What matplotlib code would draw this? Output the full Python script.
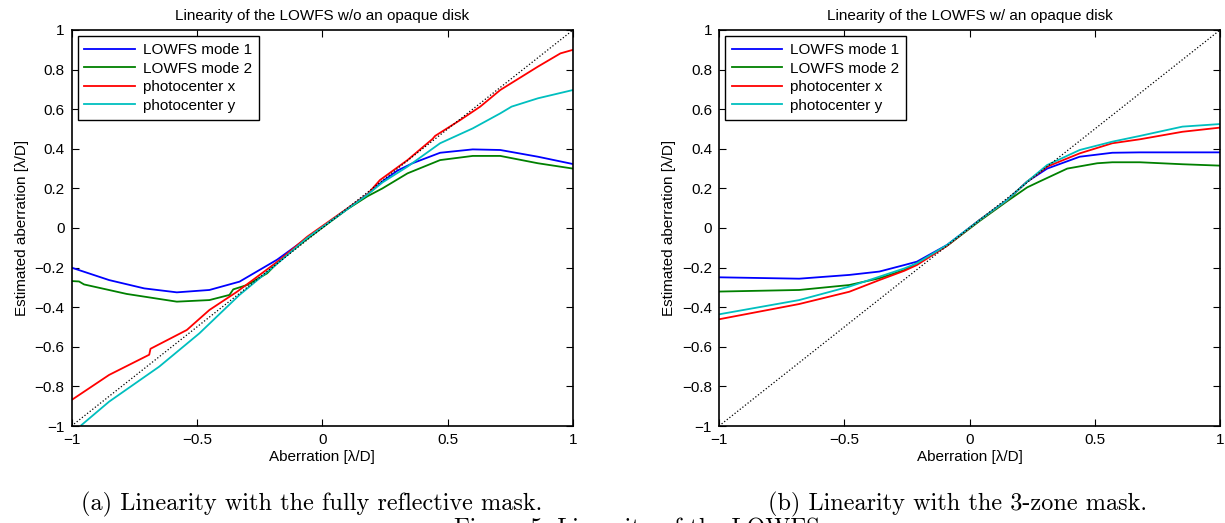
import matplotlib
matplotlib.use('Agg')
import matplotlib.pyplot as plt

# data: (a) w/o an opaque disk
blue_a_x = [-1.0, -0.85, -0.71, -0.58, -0.45, -0.33, -0.18, -0.06, 0.18, 0.24, 0.30, 0.36, 0.47, 0.60, 0.71, 0.86, 1.0]
blue_a_y = [-0.20, -0.263, -0.305, -0.325, -0.313, -0.271, -0.16, -0.05, 0.17, 0.235, 0.29, 0.327, 0.38, 0.397, 0.394, 0.36, 0.323]
green_a_x = [-1.0, -0.97, -0.95, -0.78, -0.58, -0.45, -0.37, -0.355, -0.30, -0.22, -0.17, -0.06, 0.10, 0.18, 0.24, 0.34, 0.47, 0.60, 0.71, 0.86, 1.0]
green_a_y = [-0.268, -0.27, -0.285, -0.333, -0.372, -0.364, -0.338, -0.31, -0.288, -0.229, -0.165, -0.055, 0.095, 0.16, 0.20, 0.276, 0.343, 0.364, 0.364, 0.327, 0.30]
red_a_x = [-1.0, -0.85, -0.69, -0.685, -0.54, -0.45, -0.34, -0.17, -0.06, 0.18, 0.23, 0.34, 0.44, 0.45, 0.55, 0.63, 0.71, 0.86, 0.95, 1.0]
red_a_y = [-0.869, -0.742, -0.64, -0.61, -0.515, -0.414, -0.322, -0.162, -0.044, 0.17, 0.242, 0.343, 0.45, 0.465, 0.545, 0.613, 0.697, 0.815, 0.882, 0.90]
cyan_a_x = [-0.96, -0.85, -0.65, -0.49, -0.33, -0.17, -0.06, 0.18, 0.24, 0.34, 0.47, 0.60, 0.71, 0.755, 0.86, 1.0]
cyan_a_y = [-0.995, -0.877, -0.70, -0.532, -0.338, -0.17, -0.05, 0.168, 0.23, 0.31, 0.428, 0.503, 0.579, 0.613, 0.655, 0.697]

# (b) w/ an opaque disk
blue_b_x = [-1.0, -0.68, -0.48, -0.36, -0.26, -0.21, -0.09, 0.04, 0.15, 0.23, 0.31, 0.44, 0.57, 0.68, 1.0]
blue_b_y = [-0.249, -0.256, -0.237, -0.22, -0.187, -0.170, -0.086, 0.040, 0.141, 0.234, 0.30, 0.36, 0.38, 0.382, 0.382]
green_b_x = [-1.0, -0.68, -0.48, -0.36, -0.26, -0.21, -0.09, 0.04, 0.15, 0.23, 0.28, 0.39, 0.51, 0.57, 0.68, 0.85, 1.0]
green_b_y = [-0.321, -0.313, -0.288, -0.254, -0.212, -0.178, -0.09, 0.035, 0.135, 0.205, 0.235, 0.30, 0.327, 0.332, 0.332, 0.322, 0.315]
red_b_x = [-1.0, -0.68, -0.48, -0.36, -0.26, -0.21, -0.09, 0.04, 0.15, 0.23, 0.31, 0.44, 0.57, 0.68, 0.85, 1.0]
red_b_y = [-0.461, -0.384, -0.322, -0.263, -0.216, -0.187, -0.09, 0.04, 0.14, 0.234, 0.31, 0.377, 0.428, 0.448, 0.486, 0.507]
cyan_b_x = [-1.0, -0.68, -0.48, -0.36, -0.26, -0.21, -0.09, 0.04, 0.15, 0.23, 0.31, 0.44, 0.57, 0.68, 0.85, 1.0]
cyan_b_y = [-0.436, -0.364, -0.296, -0.246, -0.204, -0.178, -0.086, 0.04, 0.141, 0.234, 0.318, 0.394, 0.436, 0.465, 0.512, 0.525]

diag = [-1, 1]
labels = ['LOWFS mode 1', 'LOWFS mode 2', 'photocenter x', 'photocenter y']
colors = ['#0000ff', '#008000', '#ff0000', '#00bfbf']
xticks = [-1, -0.5, 0, 0.5, 1]
xticklabels = ['\u22121', '\u22120.5', '0', '0.5', '1']
yticks = [-1, -0.8, -0.6, -0.4, -0.2, 0, 0.2, 0.4, 0.6, 0.8, 1]
yticklabels = ['\u22121', '\u22120.8', '\u22120.6', '\u22120.4', '\u22120.2', '0', '0.2', '0.4', '0.6', '0.8', '1']
titles = ['Linearity of the LOWFS w/o an opaque disk', 'Linearity of the LOWFS w/ an opaque disk']
captions = ['(a) Linearity with the fully reflective mask.', '(b) Linearity with the 3-zone mask.']

plt.rcParams['font.family'] = ['Liberation Sans', 'DejaVu Sans']

W, H = 1225, 523
fig = plt.figure(figsize=(W / 100, H / 100), dpi=100)
ax_a = fig.add_axes([71.5 / W, 1 - 426 / H, 501.5 / W, 396 / H])
ax_b = fig.add_axes([719 / W, 1 - 426 / H, 501 / W, 396 / H])

panels = [
    (ax_a, [(blue_a_x, blue_a_y), (green_a_x, green_a_y), (red_a_x, red_a_y), (cyan_a_x, cyan_a_y)]),
    (ax_b, [(blue_b_x, blue_b_y), (green_b_x, green_b_y), (red_b_x, red_b_y), (cyan_b_x, cyan_b_y)]),
]

for i, (ax, series) in enumerate(panels):
    for (xs, ys), c, lab in zip(series, colors, labels):
        ax.plot(xs, ys, color=c, lw=1.3, label=lab)
    ax.plot(diag, diag, 'k:', lw=0.9)
    ax.set_xlim(-1, 1)
    ax.set_ylim(-1, 1)
    ax.set_xticks(xticks)
    ax.set_xticklabels(xticklabels)
    ax.set_yticks(yticks)
    ax.set_yticklabels(yticklabels)
    ax.tick_params(direction='in', top=True, right=True, length=5, width=0.8, labelsize=11, pad=5)
    for sp in ax.spines.values():
        sp.set_linewidth(1.2)
    ax.set_title(titles[i], fontsize=11, pad=7)
    ax.set_xlabel('Aberration [\u03bb/D]', fontsize=11, labelpad=2)
    ax.set_ylabel('Estimated aberration [\u03bb/D]', fontsize=11, labelpad=4)
    leg = ax.legend(loc='upper left', fontsize=11, fancybox=False, framealpha=1,
                    edgecolor='black', handlelength=3.3, handletextpad=0.5,
                    borderpad=0.45, labelspacing=0.3, borderaxespad=0.4)
    leg.get_frame().set_linewidth(1.0)

fig.text(312 / W, 1 - 504 / H, captions[0], family='cmr10', fontsize=17.5, ha='center', va='center')
fig.text(957 / W, 1 - 504 / H, captions[1], family='cmr10', fontsize=17.5, ha='center', va='center')
fig.text(640 / W, 1 - 518 / H, 'Figure 5: Linearity of the LOWFS.', family='cmr10', fontsize=17.5, ha='center', va='top')

fig.savefig('out.png', dpi=100)
